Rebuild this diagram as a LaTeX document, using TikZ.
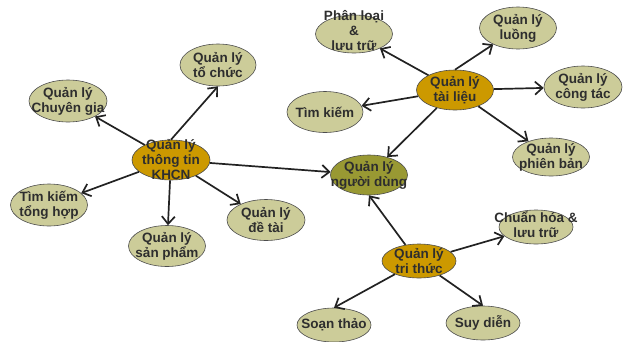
\documentclass[tikz,border=0pt]{standalone}
\usepackage{fontspec}
\setmainfont{Liberation Sans}
\usetikzlibrary{shapes.geometric,arrows.meta}
\definecolor{leaffill}{HTML}{CCCC99}
\definecolor{hubfill}{HTML}{CC9900}
\definecolor{userfill}{HTML}{999933}
\definecolor{txtcol}{HTML}{2E2E2E}
\definecolor{edgecol}{HTML}{222222}
\tikzset{
  bub/.style={ellipse, draw=black!70, line width=0.6pt, inner sep=0pt},
  leaf/.style={bub, fill=leaffill},
  hub/.style={bub, fill=hubfill},
  usr/.style={bub, fill=userfill},
  txt/.style={align=center, text=txtcol, inner sep=0pt,
    font={\fontsize{13.5}{15}\selectfont\bfseries}},
  arr/.style={draw=edgecol, line width=1.7pt,
    -{Straight Barb[length=7.5pt,width=13pt,line width=1.7pt]}},
}
\begin{document}
\begin{tikzpicture}[x=1pt,y=-1pt]
\useasboundingbox (0,0) rectangle (624,341);
% nodes
\node[hub, minimum width=78pt, minimum height=40pt] (khcn) at (171,160) {};
\node[leaf, minimum width=76pt, minimum height=42pt] (toc) at (218,65) {};
\node[leaf, minimum width=78pt, minimum height=42pt] (cg) at (68,101) {};
\node[leaf, minimum width=77pt, minimum height=42pt] (tkth) at (49,205) {};
\node[leaf, minimum width=77pt, minimum height=41pt] (sp) at (167,246) {};
\node[leaf, minimum width=78pt, minimum height=41pt] (dt) at (266,220) {};
\node[usr, minimum width=77pt, minimum height=40pt] (nd) at (369,175) {};
\node[hub, minimum width=77pt, minimum height=40pt] (tl) at (455,90) {};
\node[leaf, minimum width=77pt, minimum height=38pt] (pl) at (354,34) {};
\node[leaf, minimum width=77pt, minimum height=42pt] (luong) at (518,28) {};
\node[leaf, minimum width=78pt, minimum height=42pt] (ct) at (583,87) {};
\node[leaf, minimum width=77pt, minimum height=38pt] (pb) at (551,157) {};
\node[leaf, minimum width=76pt, minimum height=41pt] (tk) at (325,112) {};
\node[hub, minimum width=74pt, minimum height=34pt] (tt) at (419,261) {};
\node[leaf, minimum width=74pt, minimum height=34pt] (ch) at (536,227) {};
\node[leaf, minimum width=74pt, minimum height=34pt] (st) at (334,325) {};
\node[leaf, minimum width=74pt, minimum height=34pt] (sd) at (483,323) {};
% texts
\node[txt] (khcnT) at (khcn) {Quản lý\\thông tin\\KHCN};
\node[txt] (tocT) at (toc) {Quản lý\\tổ chức};
\node[txt] (cgT) at (cg) {Quản lý\\Chuyên gia};
\node[txt] (tkthT) at (tkth) {Tìm kiếm\\tổng hợp};
\node[txt] (spT) at (sp) {Quản lý\\sản phẩm};
\node[txt] (dtT) at (dt) {Quản lý\\đề tài};
\node[txt] (ndT) at (nd) {Quản lý\\người dùng};
\node[txt] (tlT) at (tl) {Quản lý\\tài liệu};
\node[txt] (plT) at (354,31) {Phân loại\\\&\\lưu trữ};
\node[txt] (luongT) at (luong) {Quản lý\\luồng};
\node[txt] (ctT) at (ct) {Quản lý\\công tác};
\node[txt] (pbT) at (pb) {Quản lý\\phiên bản};
\node[txt] (tkT) at (tk) {Tìm kiếm};
\node[txt] (ttT) at (tt) {Quản lý\\tri thức};
\node[txt] (chT) at (536,225) {Chuẩn hóa \&\\lưu trữ};
\node[txt] (stT) at (st) {Soạn thảo};
\node[txt] (sdT) at (sd) {Suy diễn};
% edges
\draw[arr] (khcn.north) -- (toc.south);
\draw[arr] (khcn) -- (cg);
\draw[arr] (khcn) -- (tkth);
\draw[arr] (khcn) -- (sp);
\draw[arr] (khcn) -- (dt);
\draw[arr] (khcn) -- (nd);
\draw[arr] (tl) -- (pl);
\draw[arr] (tl.north) -- (luong);
\draw[arr] (tl) -- (ct);
\draw[arr] (tl) -- (pb);
\draw[arr] (tl) -- (tk);
\draw[arr] (tl) -- (nd);
\draw[arr] (tt.130) -- (nd.south);
\draw[arr] (tt) -- (ch);
\draw[arr] (tt) -- (st.north);
\draw[arr] (tt) -- (sd.north);
\end{tikzpicture}
\end{document}
